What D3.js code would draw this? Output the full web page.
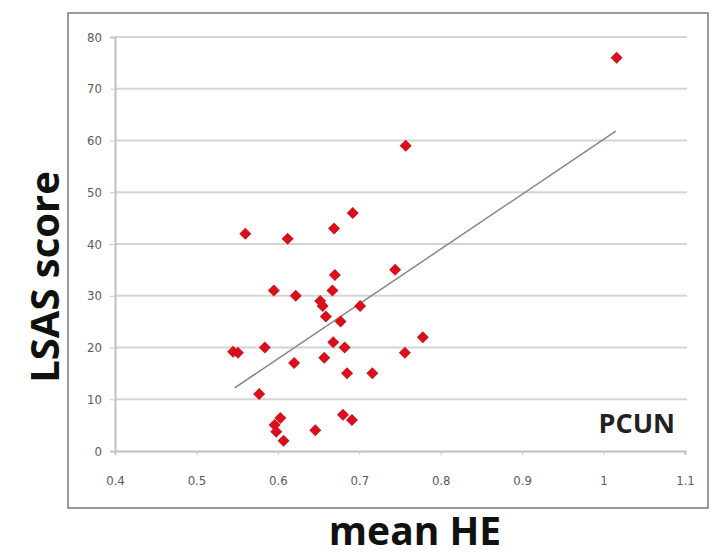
<!DOCTYPE html>
<html>
<head>
<meta charset="utf-8">
<script src="https://cdn.jsdelivr.net/npm/d3@7"></script>
<style>
  body { margin: 0; background: #fff; }
  svg { display: block; }
</style>
</head>
<body>
<div id="chart"></div>
<script>
// Values
var heValues = [1.016, 0.757, 0.560, 0.612, 0.692, 0.669, 0.670, 0.667, 0.595, 0.622,
                0.744, 0.652, 0.655, 0.659, 0.701, 0.677, 0.778, 0.756, 0.545, 0.551,
                0.584, 0.668, 0.682, 0.620, 0.657, 0.685, 0.716, 0.577, 0.603, 0.596,
                0.598, 0.607, 0.646, 0.680, 0.691];
var lsasValues = [76, 59, 42, 41, 46, 43, 34, 31, 31, 30,
                  35, 29, 28, 26, 28, 25, 22, 19, 19.2, 19,
                  20, 21, 20, 17, 18, 15, 15, 11, 6.4, 5,
                  3.7, 2, 4, 7, 6];
var trendX = [0.547, 1.015];
var trendY = [12.2, 61.8];
var xTicks = [0.4, 0.5, 0.6, 0.7, 0.8, 0.9, 1, 1.1];
var yTicks = [0, 10, 20, 30, 40, 50, 60, 70, 80];

var svgWidth = 712, svgHeight = 556;
var plot = { left: 115, right: 685, top: 37, bottom: 451 };

var svg = d3.select("#chart").append("svg")
  .attr("width", svgWidth)
  .attr("height", svgHeight);

// outer frame
svg.append("rect")
  .attr("x", 68).attr("y", 13)
  .attr("width", 640).attr("height", 495)
  .attr("fill", "none")
  .attr("stroke", "#9a9a9a")
  .attr("stroke-width", 2);

var xScale = d3.scaleLinear().domain([0.4, 1.1]).range([plot.left, plot.right]);
var yScale = d3.scaleLinear().domain([0, 80]).range([plot.bottom, plot.top]);

// gridlines
svg.append("g")
  .selectAll("line")
  .data(yTicks.filter(d => d > 0))
  .enter().append("line")
  .attr("x1", plot.left).attr("x2", plot.right + 2)
  .attr("y1", d => yScale(d)).attr("y2", d => yScale(d))
  .attr("stroke", "#d4d4d4")
  .attr("stroke-width", 2);

// y axis
var leftAxis = d3.axisLeft(yScale).tickValues(yTicks).tickSize(5).tickPadding(8);
var yAxis = svg.append("g")
  .attr("transform", `translate(${plot.left}, 0)`)
  .call(leftAxis);

// x axis
var bottomAxis = d3.axisBottom(xScale).tickValues(xTicks).tickSize(4).tickPadding(21)
  .tickFormat(d3.format("~g"));
var xAxis = svg.append("g")
  .attr("transform", `translate(0, ${plot.bottom})`)
  .call(bottomAxis);

[xAxis, yAxis].forEach(function(ax) {
  ax.select(".domain").attr("stroke", "#c0c0c0").attr("stroke-width", 2);
  ax.selectAll(".tick line").attr("stroke", "#c8c8c8");
  ax.selectAll("text")
    .attr("fill", "#5a5a5a")
    .style("font-family", "'DejaVu Sans Condensed', 'Liberation Sans Narrow', sans-serif")
    .style("font-size", "13px");
});

// trend line
svg.append("line")
  .attr("x1", xScale(trendX[0])).attr("y1", yScale(trendY[0]))
  .attr("x2", xScale(trendX[1])).attr("y2", yScale(trendY[1]))
  .attr("stroke", "#7f8a86")
  .attr("stroke-width", 1.5);

// points
var diamond = d3.symbol().type(d3.symbolSquare).size(72);
svg.append("g")
  .selectAll("path")
  .data(heValues)
  .enter().append("path")
  .attr("d", diamond)
  .attr("transform", (d, i) => `translate(${xScale(d)}, ${yScale(lsasValues[i])}) rotate(45)`)
  .attr("fill", "#d8101c");

// labels
svg.append("text")
  .attr("x", 675).attr("y", 433)
  .attr("text-anchor", "end")
  .attr("fill", "#222")
  .style("font-family", "'Open Sans', sans-serif")
  .style("font-weight", "bold")
  .style("font-size", "27px")
  .text("PCUN");

svg.append("text")
  .attr("x", 415).attr("y", 545)
  .attr("text-anchor", "middle")
  .attr("fill", "#111")
  .style("font-family", "'Open Sans', sans-serif")
  .style("font-weight", "bold")
  .style("font-size", "39px")
  .text("mean HE");

svg.append("text")
  .attr("transform", "translate(59, 277) rotate(-90)")
  .attr("text-anchor", "middle")
  .attr("fill", "#111")
  .style("font-family", "'Open Sans', sans-serif")
  .style("font-weight", "bold")
  .style("font-size", "40px")
  .text("LSAS score");
</script>
</body>
</html>
